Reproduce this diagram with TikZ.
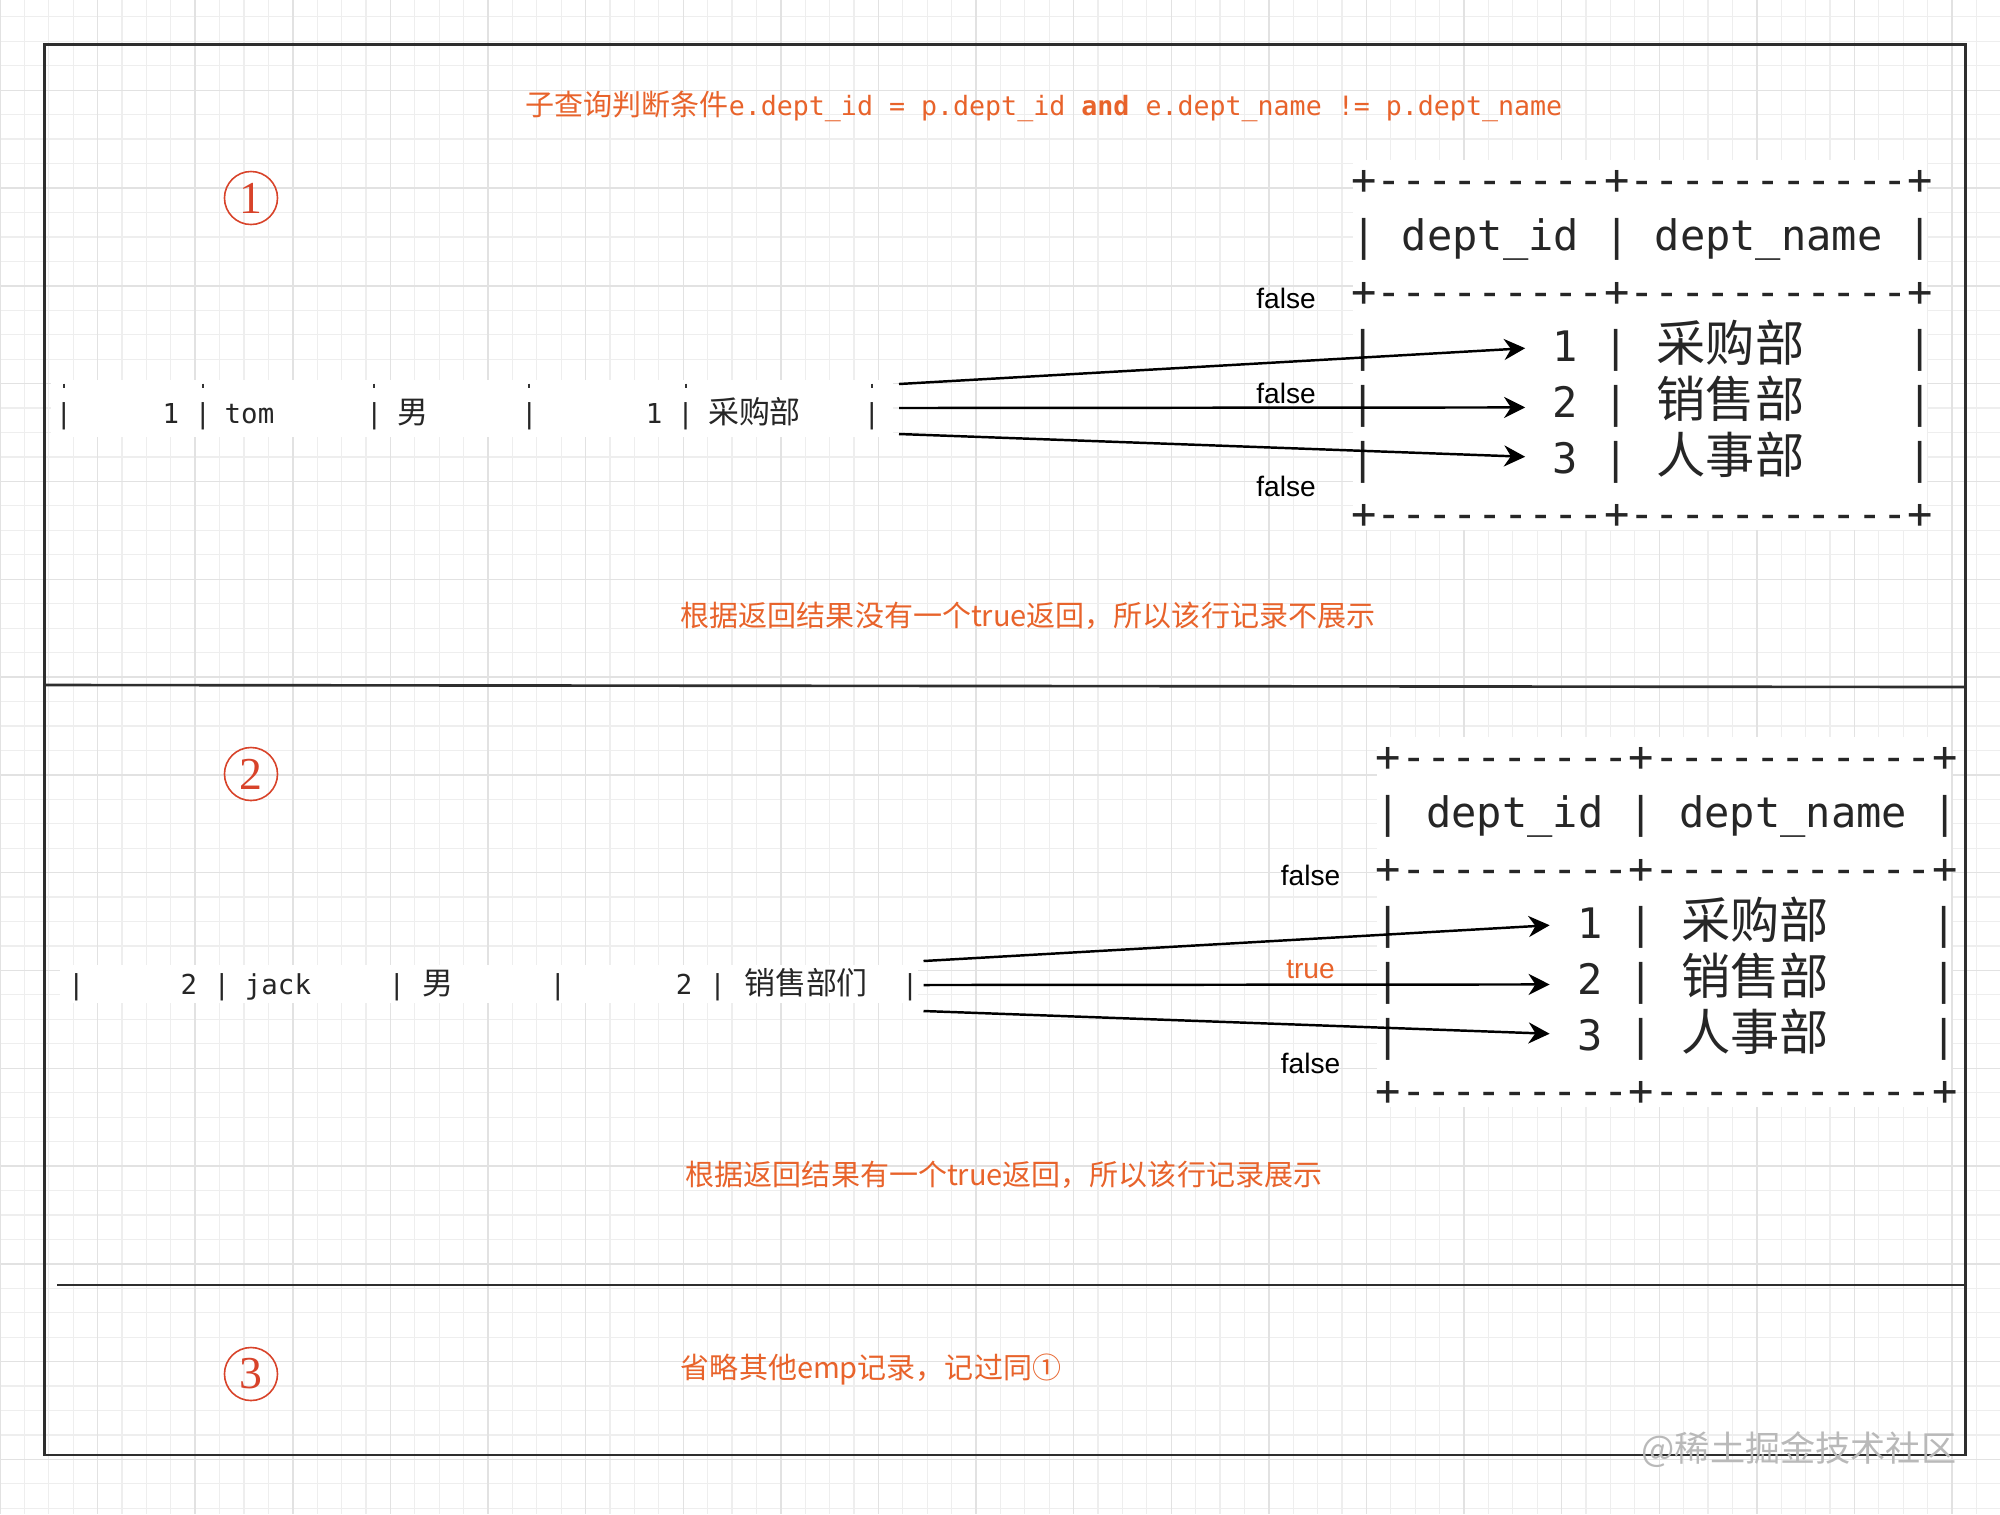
\documentclass[tikz,border=0pt]{standalone}
\usepackage{fontspec}
\setmainfont{Liberation Sans}
\setmonofont{DejaVu Sans Mono}
\newfontfamily\cjk{Noto Sans CJK SC}
\newfontfamily\numfont{Liberation Serif}
\usetikzlibrary{arrows.meta, positioning, calc}
\definecolor{qzOrange}{HTML}{E8632B}
\definecolor{qzRed}{HTML}{D8432A}
\definecolor{qzMinor}{HTML}{EEEEEE}
\definecolor{qzMajor}{HTML}{E2E2E2}
\definecolor{qzFrame}{HTML}{2E2E2E}
\newcommand\qzdashes[1]{\foreach \i in {1,...,#1}{-{}}}
\tikzset{
  qzminor/.style={draw=qzMinor, line width=0.35pt},
  qzmajor/.style={draw=qzMajor, line width=0.4pt},
  qzframe/.style={draw=qzFrame, line width=0.75pt},
  qzrow/.style={inner sep=0pt, anchor=base, font=\fontsize{7.8}{9}\ttfamily, text=black!85},
  qzrowcjk/.style={inner sep=0pt, anchor=base, font=\fontsize{8.8}{10}\cjk, text=black!85},
  qztab/.style={inner sep=0pt, anchor=base, font=\fontsize{11.95}{14}\ttfamily, text=black!85},
  qztabcjk/.style={inner sep=0pt, anchor=base, font=\fontsize{14}{16}\cjk, text=black!85},
  qzflow/.style={draw=black, line width=0.7pt, -{Stealth[length=6pt, width=6pt]}},
  qzlbl/.style={inner sep=0pt, font=\fontsize{8}{9}\selectfont},
  qznum/.style={circle, draw=qzRed, text=qzRed, line width=0.45pt, minimum size=0.53cm,
                inner sep=0pt, font=\fontsize{13}{13}\numfont},
  qznote/.style={inner sep=0pt, font=\fontsize{8.25}{10}\cjk, text=qzOrange},
}

\begin{document}
\begin{tikzpicture}[x=0.01cm, y=-0.01cm]
\useasboundingbox (0,0) rectangle (2000,1514);
\fill[white] (0,0) rectangle (2000,1514);
% grid paper
\foreach \k in {0,...,82} \draw[qzminor] (24.4*\k,0) -- (24.4*\k,1514);
\foreach \k in {1,...,62} \draw[qzminor] (0,24.45*\k-7.6) -- (2000,24.45*\k-7.6);
\foreach \k in {0,4,...,80} \draw[qzmajor] (24.4*\k,0) -- (24.4*\k,1514);
\foreach \k in {4,8,...,60} \draw[qzmajor] (0,24.45*\k-7.6) -- (2000,24.45*\k-7.6);

% frame and section rules
\coordinate (tl) at (44.6,44.6);
\coordinate (br) at (1965.6,1455);
\draw[qzframe] (tl) rectangle (br);
\draw[qzframe] (44.6,685) -- (1965.6,687);
\draw[qzframe] (57,1285) -- (1965.6,1285);

\node[qznote, anchor=base west] (cond) at (525,115) {子查询判断条件{\ttfamily\fontsize{7.57}{9}\selectfont e.dept\_id = p.dept\_id \textbf{and} e.dept\_name != p.dept\_name}};

\node[qznum] (c1) at (251,198) {1};
\node[qznum] (c2) at (251,774) {2};
\node[qznum] (c3) at (251,1374) {3};

% emp rows
\fill[white] (51,380) rectangle (893,437);
\foreach \bx [count=\n] in {63.8,202.8,374.4,529.3,685.6,871.8} {
  \node[qzrow] (ra-bar\n) at (\bx,423) {|};
  \draw[line width=0.6pt, black!80] (\bx,383.5) -- (\bx,387.5);
}
\node[qzrow] (ra-id) at (171,423) {1};
\node[qzrow] (ra-name) at (249.5,423) {tom};
\node[qzrowcjk] (ra-sex) at (412.5,423) {男};
\node[qzrow] (ra-dept) at (654,423) {1};
\node[qzrowcjk] (ra-dname) at (754.5,423) {采购部};

\fill[white] (60,965) rectangle (918,1003);
\foreach \bx [count=\n] in {76.5,222,397,558,717.5,910}
  \node[qzrow] (rb-bar\n) at (\bx,994) {|};
\node[qzrow] (rb-id) at (189,994) {2};
\node[qzrow] (rb-name) at (278,994) {jack};
\node[qzrowcjk] (rb-sex) at (437.5,994) {男};
\node[qzrow] (rb-dept) at (684,994) {2};
\node[qzrowcjk] (rb-dname) at (806,994) {销售部们};

% dept tables, labels and arrows
\foreach \tb/\ox/\oy/\lb/\lc in {a/1350.5/0/false/black, b/1375/577/true/qzOrange} {
  \fill[white] (\ox+2,\oy+160) rectangle (\ox+576,\oy+530);
  \node[qztab, anchor=base west] (\tb-top) at (\ox,\oy+194) {+\qzdashes{9}+\qzdashes{11}+};
  \node[qztab, anchor=base west] (\tb-head) at (\ox,\oy+250) {| dept\_id | dept\_name |};
  \node[qztab, anchor=base west] (\tb-sep) at (\ox,\oy+306) {+\qzdashes{9}+\qzdashes{11}+};
  \node[qztab, anchor=base west] (\tb-bot) at (\ox,\oy+528.5) {+\qzdashes{9}+\qzdashes{11}+};
  \foreach \r/\by/\dn in {1/361/采购部, 2/417/销售部, 3/473/人事部} {
    \foreach \cx [count=\c] in {12.65,265.65,569.25}
      \node[qztab] (\tb-bar\r\c) at (\ox+\cx,\oy+\by) {|};
    \node[qztab] (\tb-id\r) at (\ox+215,\oy+\by) {\r};
    \node[qztabcjk] (\tb-dn\r) at (\ox+380,\oy+\by) {\dn};
  }
  \node[qzlbl] (\tb-l1) at (\ox-64.5,\oy+298) {false};
  \node[qzlbl, text=\lc] (\tb-l2) at (\ox-64.5,\oy+393) {\lb};
  \node[qzlbl] (\tb-l3) at (\ox-64.5,\oy+486) {false};
  \foreach \r/\sy/\dy in {1/384/1, 2/408/6, 3/434/0} {
    \coordinate (\tb-src\r) at (\ox-451.5,\oy+\sy);
    \draw[qzflow, shorten >=0.27cm] (\tb-src\r) -- ($(\tb-id\r.west)+(0,\dy)$);
  }
}

\node[qznote] (note1) at (1028,616) {根据返回结果没有一个true返回，所以该行记录不展示};
\node[qznote] (note2) at (1004,1175) {根据返回结果有一个true返回，所以该行记录展示};
\node[qznote] (note3) at (871,1370) {省略其他emp记录，记过同①};
\node[inner sep=0pt, font=\fontsize{10}{12}\cjk, text=gray!55] (mark) at (1799,1450) {@稀土掘金技术社区};
\end{tikzpicture}
\end{document}
